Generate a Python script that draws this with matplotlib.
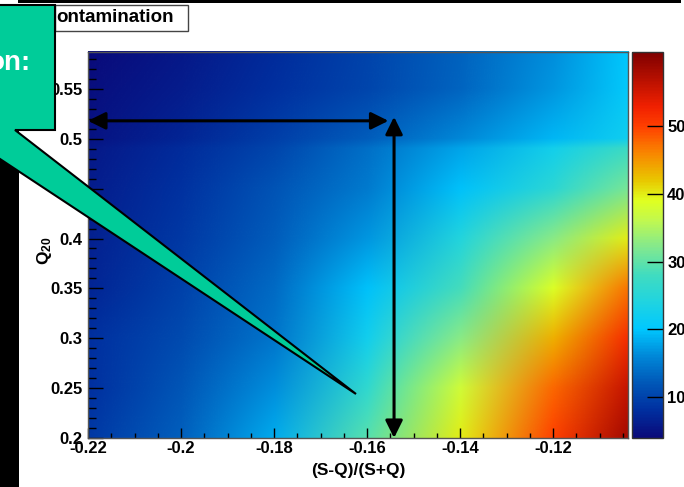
import matplotlib
matplotlib.use("Agg")
import matplotlib.pyplot as plt
import numpy as np
from matplotlib.colors import LinearSegmentedColormap, Normalize
from matplotlib.patches import Polygon, Rectangle
from matplotlib.image import NonUniformImage

plt.rcParams['font.family'] = ['Liberation Sans', 'DejaVu Sans']
plt.rcParams['font.weight'] = 'bold'
plt.rcParams['mathtext.fontset'] = 'custom'
plt.rcParams['mathtext.rm'] = 'Liberation Sans:bold'
plt.rcParams['mathtext.it'] = 'Liberation Sans:bold'
plt.rcParams['mathtext.bf'] = 'Liberation Sans:bold'

# ---- data ----
x_nodes = [-0.22, -0.20, -0.18, -0.16, -0.14, -0.12, -0.1039]
y_nodes = [0.20, 0.25, 0.30, 0.35, 0.40, 0.45, 0.49, 0.50, 0.55, 0.587]
c_q020 = [9.0, 12.8, 18.2, 29.5, 40.0, 50.0, 58.5]
c_q025 = [8.0, 11.8, 16.5, 26.0, 37.5, 47.7, 56.0]
c_q030 = [8.0, 10.7, 14.4, 22.3, 32.5, 43.5, 51.7]
c_q035 = [7.0, 9.8, 13.5, 19.7, 28.4, 38.5, 47.0]
c_q040 = [6.5, 9.0, 12.5, 17.0, 24.2, 32.5, 40.0]
c_q045 = [6.0, 8.2, 11.5, 15.0, 19.6, 25.5, 31.5]
c_q049 = [5.5, 7.6, 10.3, 14.0, 17.8, 22.5, 27.5]
c_q050 = [5.0, 7.0, 9.5, 12.5, 16.0, 19.0, 22.0]
c_q055 = [4.5, 6.0, 8.0, 10.3, 13.2, 17.0, 20.5]
c_q0587 = [4.0, 5.5, 7.5, 10.0, 13.0, 16.5, 20.0]
z_min, z_max = 3.9, 61.0
x_ticks = [-0.22, -0.20, -0.18, -0.16, -0.14, -0.12]
x_ticklabels = ['-0.22', '-0.2', '-0.18', '-0.16', '-0.14', '-0.12']
y_ticks = [0.2, 0.25, 0.3, 0.35, 0.4, 0.45, 0.5, 0.55]
y_ticklabels = ['0.2', '0.25', '0.3', '0.35', '0.4', '0.45', '0.5', '0.55']
cb_ticks = [10, 20, 30, 40, 50]
arrow_q20 = 0.518
arrow_x_end = -0.1554
vline_x = -0.1542
vline_top = 0.522

Z = np.array([c_q020, c_q025, c_q030, c_q035, c_q040, c_q045, c_q049,
              c_q050, c_q055, c_q0587])

cmap = LinearSegmentedColormap.from_list('rootpal', [
    (0.000, '#0a0a7a'),
    (0.072, '#0030a0'),
    (0.142, '#0058b8'),
    (0.212, '#0088d8'),
    (0.282, '#00c8ff'),
    (0.352, '#20d4e0'),
    (0.422, '#40dcc0'),
    (0.492, '#80e890'),
    (0.562, '#c0f850'),
    (0.615, '#e0ff20'),
    (0.667, '#e8c800'),
    (0.737, '#f88800'),
    (0.807, '#ff4000'),
    (0.860, '#f02000'),
    (1.000, '#800000'),
])
norm = Normalize(vmin=z_min, vmax=z_max)

W, H = 684, 487
fig = plt.figure(figsize=(W / 100, H / 100), dpi=100)
fig.patch.set_facecolor('white')

def fx(px):
    return px / W

def fy(py):
    return 1 - py / H

ax = fig.add_axes([fx(88), fy(438), 540 / W, 386 / H])
cax = fig.add_axes([fx(632), fy(438), 31 / W, 386 / H])

im = NonUniformImage(ax, interpolation='bilinear', cmap=cmap, norm=norm,
                     extent=(x_nodes[0], x_nodes[-1], y_nodes[0], y_nodes[-1]))
im.set_data(np.array(x_nodes), np.array(y_nodes), Z)
ax.add_image(im)
ax.set_xlim(x_nodes[0], x_nodes[-1])
ax.set_ylim(y_nodes[0], y_nodes[-1])

ax.set_xticks(x_ticks)
ax.set_xticklabels(x_ticklabels)
ax.set_yticks(y_ticks)
ax.set_yticklabels(y_ticklabels)
ax.set_xticks(np.arange(-0.215, -0.104, 0.005), minor=True)
ax.set_yticks(np.arange(0.21, 0.586, 0.01), minor=True)
ax.tick_params(axis='x', which='major', direction='in', length=7.2, width=1,
               labelsize=12, pad=2, top=False)
ax.tick_params(axis='x', which='minor', direction='in', length=3.6, width=1, top=False)
ax.tick_params(axis='y', which='major', direction='in', length=10.8, width=1,
               labelsize=12, pad=4, right=False)
ax.tick_params(axis='y', which='minor', direction='in', length=5.4, width=1, right=False)
for lab in ax.get_xticklabels() + ax.get_yticklabels():
    lab.set_fontweight('bold')
for sp in ax.spines.values():
    sp.set_color('#555555')
    sp.set_linewidth(1)
    sp.set_zorder(3)

cb = fig.colorbar(im, cax=cax)
cb.set_ticks(cb_ticks)
cb.set_ticklabels([str(t) for t in cb_ticks])
cax.tick_params(direction='in', length=11.5, width=1, labelsize=12, pad=3)
for lab in cax.get_yticklabels():
    lab.set_fontweight('bold')
cb.outline.set_edgecolor('#333333')
cb.outline.set_linewidth(1)

# arrows
ap = dict(arrowstyle='<|-|>,head_length=1.05,head_width=0.52', mutation_scale=10,
          lw=2.2, color='black', shrinkA=0, shrinkB=0)
ax.annotate('', xy=(arrow_x_end, arrow_q20), xytext=(x_nodes[0], arrow_q20),
            arrowprops=ap, annotation_clip=False)
ax.annotate('', xy=(vline_x, vline_top), xytext=(vline_x, y_nodes[0]),
            arrowprops=ap, annotation_clip=False)

# axis titles
fig.text(fx(358), fy(470), '(S-Q)/(S+Q)', ha='center', va='center',
         fontsize=12.5, fontweight='bold')
fig.text(fx(44), fy(251), r'$Q_{20}$', ha='center', va='center',
         fontsize=12.5, rotation=90)

# slide decorations
fig.add_artist(Rectangle((fx(18), fy(3)), (681 - 18) / W, 3 / H,
                         transform=fig.transFigure, facecolor='black',
                         edgecolor='none', zorder=5))
fig.add_artist(Rectangle((0, 0), 19 / W, fy(5),
                         transform=fig.transFigure, facecolor='black',
                         edgecolor='none', zorder=5))
fig.add_artist(Rectangle((fx(55), fy(31)), (188 - 55) / W, 26 / H,
                         transform=fig.transFigure, facecolor='white',
                         edgecolor='#444444', lw=1, zorder=6))
fig.text(fx(56), fy(18), 'ontamination', ha='left', va='center',
         fontsize=13.5, fontweight='bold', zorder=7)

callout_px = [(-3, 5), (55, 5), (55, 130), (15, 130), (356, 394), (-3, 157)]
fig.add_artist(Polygon([(fx(a), fy(b)) for a, b in callout_px], closed=True,
                       transform=fig.transFigure, facecolor='#00cc99',
                       edgecolor='black', lw=1.5, zorder=10, joinstyle='miter'))
fig.text(fx(31), fy(63), 'on:', ha='right', va='center', color='white',
         fontsize=20, fontweight='bold', zorder=11)

fig.savefig('out.png', dpi=100, facecolor='white')
